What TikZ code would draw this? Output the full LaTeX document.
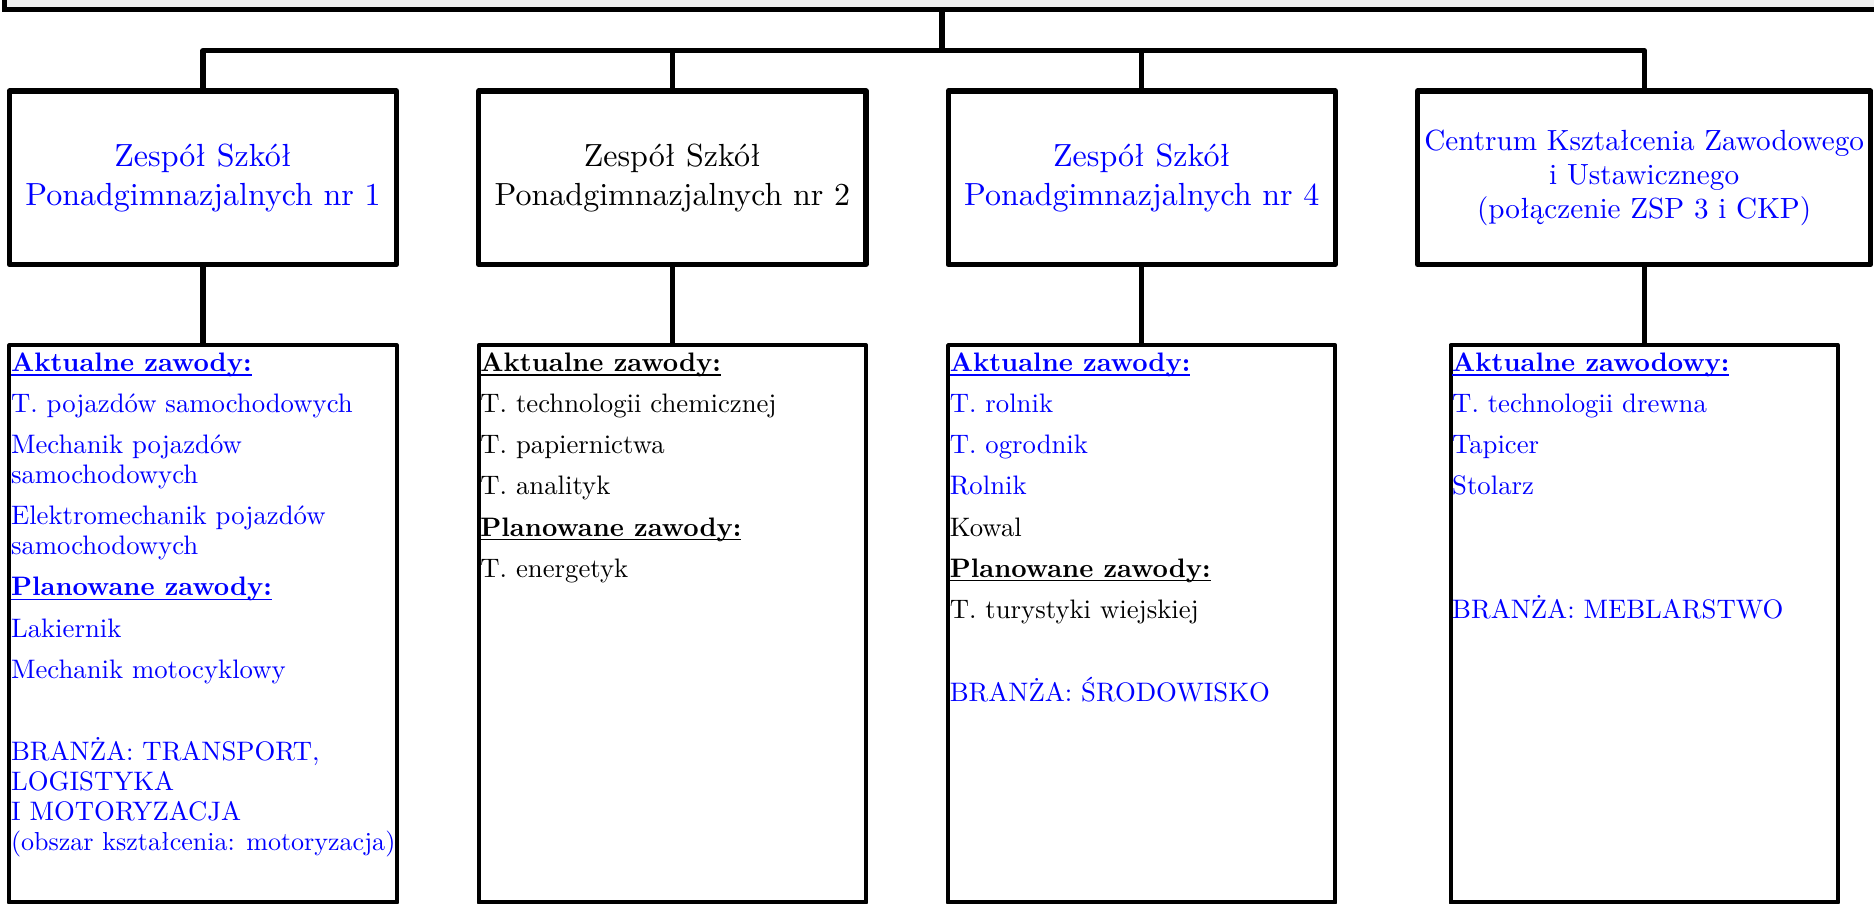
\documentclass[tikz,border=0pt]{standalone}
\usepackage{fontspec}
\setmainfont{lmroman10-regular}[Extension=.otf, BoldFont=lmroman10-bold, ItalicFont=lmroman10-italic, BoldItalicFont=lmroman10-bolditalic]
\usetikzlibrary{positioning}
\definecolor{zblue}{RGB}{0,0,255}
\tikzstyle{header} = [rectangle, minimum width=18.74cm, minimum height=1cm, line width=1.45pt, draw=black, fill=black!6]
\tikzstyle{school} = [rectangle, minimum width=3.87cm, minimum height=1.735cm, align=center, inner sep=0pt, line width=1.45pt, line join=round, draw=black, font=\fontsize{9.1}{11.2}\selectfont]
\tikzstyle{offer} = [rectangle, minimum width=3.87cm, minimum height=5.57cm, line width=1.15pt, line join=round, draw=black]
\tikzstyle{list} = [anchor=north west, align=left, inner sep=0pt, font=\fontsize{7.6}{8.5}\selectfont]
\tikzstyle{link} = [line width=1.45pt, line join=round]
\newcommand\zhead[1]{\setbox0\hbox{\bfseries #1}\rlap{\rule[-1.2pt]{\wd0}{0.45pt}}\box0}
\newcommand\nx{\\[3.2pt]}

\begin{document}
\begin{tikzpicture}[x=0.01cm, y=-0.01cm, node distance=0.77cm]
\useasboundingbox (0,0) rectangle (1874,903);
\clip (0,0) rectangle (1874,903);

\node (board) [header, anchor=south] at (942,12) {};

\node (zsp1) [school, text=zblue] at (203,177.75) {Zespół Szkół\\Ponadgimnazjalnych nr 1};
\node (zsp2) [school, right=of zsp1] {Zespół Szkół\\Ponadgimnazjalnych nr 2};
\node (zsp4) [school, text=zblue, right=of zsp2] {Zespół Szkół\\Ponadgimnazjalnych nr 4};
\node (ckz) [school, text=zblue, minimum width=4.53cm, font=\fontsize{8.3}{9.6}\selectfont, right=of zsp4] {Centrum Kształcenia Zawodowego\\i Ustawicznego\\(połączenie ZSP 3 i CKP)};

\node (list1) [offer, below=0.76cm of zsp1] {};
\node (list2) [offer, below=0.76cm of zsp2] {};
\node (list4) [offer, below=0.76cm of zsp4] {};
\node (listc) [offer, below=0.76cm of ckz] {};

\node (jobs1) [list, text=zblue] at ([shift={(3,9)}]list1.north west) {\zhead{Aktualne zawody:}\nx
T. pojazdów samochodowych\nx
Mechanik pojazdów\\samochodowych\nx
Elektromechanik pojazdów\\samochodowych\nx
\zhead{Planowane zawody:}\nx
Lakiernik\nx
Mechanik motocyklowy\\[15pt]
BRANŻA: TRANSPORT,\\LOGISTYKA\\I MOTORYZACJA\\{\fontsize{7.4}{8.5}\selectfont(obszar kształcenia: motoryzacja)}};

\node (jobs2) [list] at ([shift={(3,9)}]list2.north west) {\zhead{Aktualne zawody:}\nx
T. technologii chemicznej\nx
T. papiernictwa\nx
T. analityk\nx
\zhead{Planowane zawody:}\nx
T. energetyk};

\node (jobs4) [list, text=zblue] at ([shift={(3,9)}]list4.north west) {\zhead{Aktualne zawody:}\nx
T. rolnik\nx
T. ogrodnik\nx
Rolnik\nx
\textcolor{black}{Kowal}\nx
\textcolor{black}{\zhead{Planowane zawody:}}\nx
\textcolor{black}{T. turystyki wiejskiej}\\[15pt]
BRANŻA: ŚRODOWISKO};

\node (jobsc) [list, text=zblue] at ([shift={(3,9)}]listc.north west) {\zhead{Aktualne zawodowy:}\nx
T. technologii drewna\nx
Tapicer\nx
Stolarz\\[26.5pt]
BRANŻA: MEBLARSTWO};

\coordinate (bar) at (942,50.5);
\draw [link] (board) -- (bar);
\draw [link] (zsp1) |- (bar) -| (ckz);
\draw [link] (zsp2) -- (zsp2 |- bar);
\draw [link] (zsp4) -- (zsp4 |- bar);

\draw [link] (zsp1) -- (list1);
\draw [link] (zsp2) -- (list2);
\draw [link] (zsp4) -- (list4);
\draw [link] (ckz) -- (listc);
\end{tikzpicture}
\end{document}
